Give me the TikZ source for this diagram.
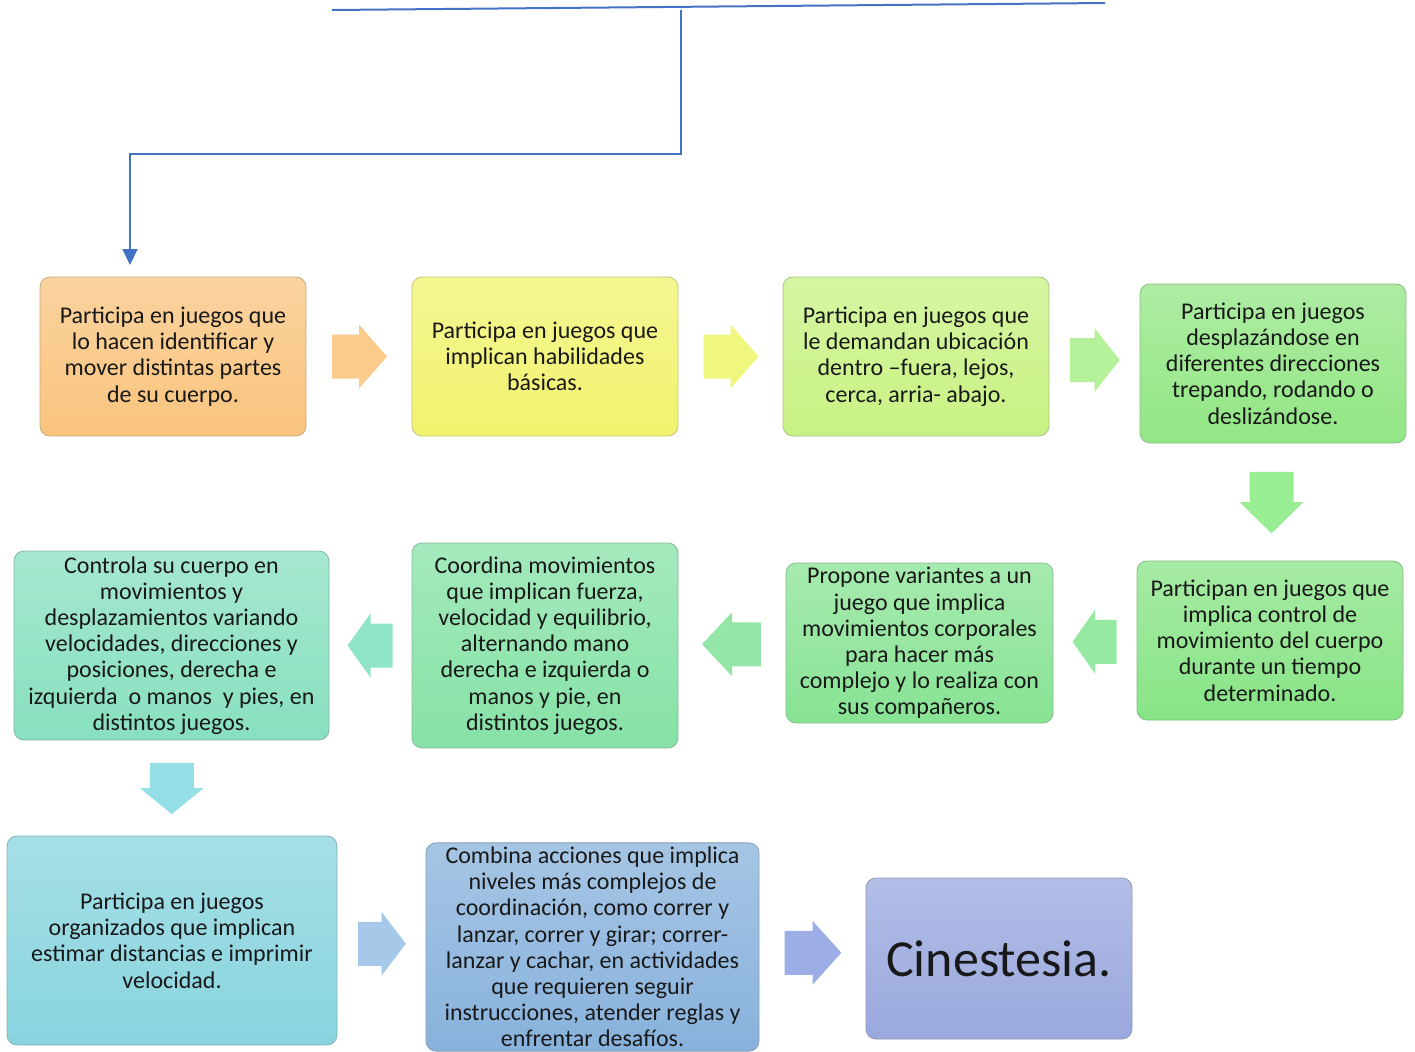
\documentclass[tikz,border=0pt]{standalone}
\usepackage{fontspec}
\setmainfont{Carlito}
\usetikzlibrary{calc}
\usetikzlibrary{arrows.meta}

\definecolor{azul}{HTML}{4472C4}
% cajas
\definecolor{c1}{HTML}{F9C47E}
\definecolor{c2}{HTML}{F1F36E}
\definecolor{c3}{HTML}{C8F283}
\definecolor{c4}{HTML}{92E684}
\definecolor{c5}{HTML}{88E486}
\definecolor{c6}{HTML}{88E394}
\definecolor{c7}{HTML}{86E2A6}
\definecolor{c8}{HTML}{88E0BF}
\definecolor{c9}{HTML}{88D4DE}
\definecolor{c10}{HTML}{88B2DC}
\definecolor{c11}{HTML}{99A8DE}
% flechas
\definecolor{f1}{HTML}{FBCB8B}
\definecolor{f2}{HTML}{EFF77E}
\definecolor{f3}{HTML}{B5F09A}
\definecolor{f4}{HTML}{98EE93}
\definecolor{f5}{HTML}{96E9A0}
\definecolor{f6}{HTML}{93E6A8}
\definecolor{f7}{HTML}{90E5C6}
\definecolor{f8}{HTML}{93DFE5}
\definecolor{f9}{HTML}{A6C9EA}
\definecolor{f10}{HTML}{9DAEE6}

\tikzset{
  caja/.style={rounded corners=5pt, draw=#1!60!gray, line width=0.4pt,
    top color=#1!75!white, bottom color=#1, align=center, text=black!90,
    font=\fontsize{12}{13.1}\selectfont, inner sep=2pt},
  flecha/.pic={\fill[pic actions] (-27,-22) -- (0,-22) -- (0,-32) -- (28,0) -- (0,32) -- (0,22) -- (-27,22) -- cycle;},
  linea/.style={draw=azul, line width=1pt}
}

\begin{document}
\begin{tikzpicture}[x=0.5pt, y=-0.5pt]
  \useasboundingbox (0,0) rectangle (1415,1051);

  %linea de arriba
  \coordinate (lineaIzq) at (332,10);
  \coordinate (lineaDer) at (1105,3);
  \coordinate (rama) at (681,9.7);
  \coordinate (codo) at (130,154);
  \coordinate (llegada) at (130,265);
  \draw[linea] (lineaIzq) -- (lineaDer);
  \draw[linea, -{Triangle[length=8pt,width=7.5pt]}] (rama) |- (codo) -- (llegada);

  %fila 1
  \node[caja=c1, minimum width=133pt, minimum height=79.5pt] (b1) at (173,356.5)
    {Participa en juegos que\\lo hacen identificar y\\mover distintas partes\\de su cuerpo.};
  \node[caja=c2, minimum width=133pt, minimum height=79.5pt] (b2) at (545,356.5)
    {Participa en juegos que\\implican habilidades\\básicas.};
  \node[caja=c3, minimum width=133pt, minimum height=79.5pt] (b3) at (916,356.5)
    {Participa en juegos que\\le demandan ubicación\\dentro –fuera, lejos,\\cerca, arria- abajo.};
  \node[caja=c4, minimum width=133pt, minimum height=79.5pt] (b4) at (1273,363.5)
    {Participa en juegos\\desplazándose en\\diferentes direcciones\\trepando, rodando o\\deslizándose.};

  %fila 2
  \node[caja=c5, minimum width=133pt, minimum height=79.5pt] (b5) at (1270,640.5)
    {Participan en juegos que\\implica control de\\movimiento del cuerpo\\durante un tiempo\\determinado.};
  \node[caja=c6, minimum width=133.5pt, minimum height=80pt] (b6) at (919.5,643)
    {Propone variantes a un\\juego que implica\\movimientos corporales\\para hacer más\\complejo y lo realiza con\\sus compañeros.};
  \node[caja=c7, minimum width=133pt, minimum height=102.5pt] (b7) at (545,645.5)
    {Coordina movimientos\\que implican fuerza,\\velocidad y equilibrio,\\alternando mano\\derecha e izquierda o\\manos y pie, en\\distintos juegos.};
  \node[caja=c8, minimum width=157.5pt, minimum height=94.5pt] (b8) at (171.5,645.5)
    {Controla su cuerpo en\\movimientos y\\desplazamientos variando\\velocidades, direcciones y\\posiciones, derecha e\\izquierda\ \ o manos\ \ y pies, en\\distintos juegos.};

  %fila 3
  \node[caja=c9, minimum width=165pt, minimum height=104.5pt] (b9) at (172,940.5)
    {Participa en juegos\\organizados que implican\\estimar distancias e imprimir\\velocidad.};
  \node[caja=c10, minimum width=166.5pt, minimum height=104pt] (b10) at (592.5,947)
    {Combina acciones que implica\\niveles más complejos de\\coordinación, como correr y\\lanzar, correr y girar; correr-\\lanzar y cachar, en actividades\\que requieren seguir\\instrucciones, atender reglas y\\enfrentar desafíos.};
  \node[caja=c11, minimum width=133pt, minimum height=80.5pt, font=\fontsize{26}{30}\selectfont] (b11) at (999,958.5)
    {Cinestesia.};

  %flechas entre cajas
  \foreach \de/\a/\ang/\col/\s in {b1.east/b2.west/0/f1/1, b2.east/b3.west/0/f2/1,
      b3.east/b4.west/0/f3/0.9, b4.south/b5.north/-90/f4/1.12,
      b5.west/b6.east/180/f5/0.8, b6.west/b7.east/180/f6/1.07,
      b7.west/b8.east/180/f7/0.82, b8.south/b9.north/-90/f8/0.93,
      b9.east/b10.west/0/f9/0.87, b10.east/b11.west/0/f10/1.03}{
    \pic[fill=\col, rotate=\ang, xscale=\s] at ($(\de)!0.5!(\a)$) {flecha};
  }

\end{tikzpicture}
\end{document}
